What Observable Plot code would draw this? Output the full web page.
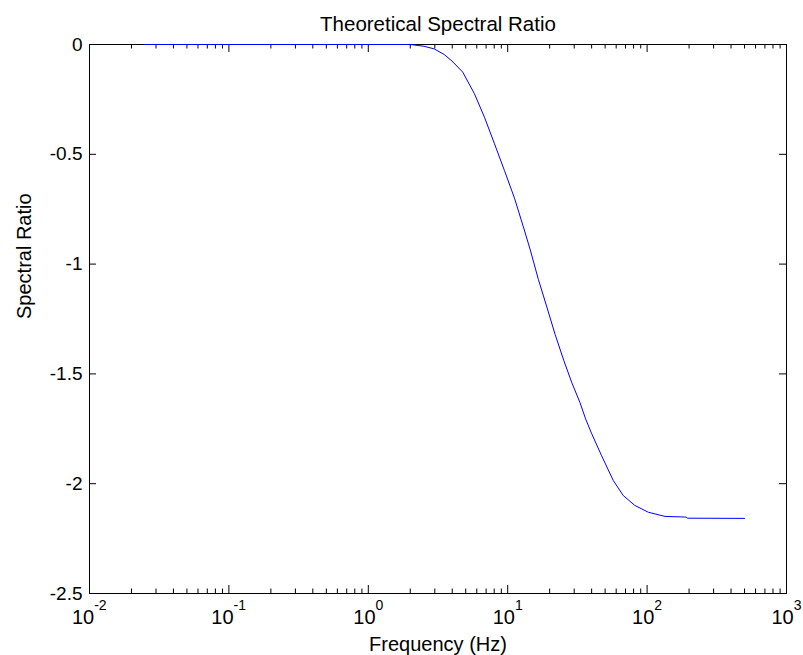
<!DOCTYPE html>
<html>
<head>
<meta charset="utf-8">
<script src="https://cdn.jsdelivr.net/npm/d3@7"></script>
<script src="https://cdn.jsdelivr.net/npm/@observablehq/plot@0.6"></script>
<style>
  html, body { margin: 0; padding: 0; background: #fff; }
  #chart svg { display: block; }
</style>
</head>
<body>
<div id="chart"></div>
<script>
// ---- data ----
const freq = [0.025, 1, 2, 2.51, 2.97, 3.51, 3.98, 4.76, 5.77, 6.81, 8.04, 9.48, 11.19, 13.09, 14.59, 16.6, 19.19, 21.88, 25.29, 28.84, 32.96, 36.22, 39.9, 47.1, 57.15, 67.45, 81.66, 102.1, 134.3, 190.5, 195, 500];
const ratio = [0, 0, 0, -0.008, -0.02, -0.046, -0.075, -0.126, -0.224, -0.331, -0.452, -0.574, -0.70, -0.84, -0.94, -1.07, -1.20, -1.32, -1.44, -1.54, -1.63, -1.705, -1.77, -1.872, -1.985, -2.054, -2.099, -2.130, -2.149, -2.152, -2.157, -2.158];

const xMajor = [0.01, 0.1, 1, 10, 100, 1000];
const xExponents = ["-2", "-1", "0", "1", "2", "3"];
const xMinor = [];
for (const d of [0.01, 0.1, 1, 10, 100]) for (const k of [2,3,4,5,6,7,8,9]) xMinor.push(+(k * d).toPrecision(3));
const yTicks = [0, -0.5, -1, -1.5, -2, -2.5];
const yTickLabels = ["0", "-0.5", "-1", "-1.5", "-2", "-2.5"];

const title = "Theoretical Spectral Ratio";
const xLabel = "Frequency (Hz)";
const yLabel = "Spectral Ratio";

const data = freq.map((f, i) => ({f, v: ratio[i]}));
const xLabs = xMajor.map((x, i) => ({x, e: xExponents[i]}));
const yLabs = yTicks.map((y, i) => ({y, t: yTickLabels[i]}));

const W = 803, H = 655;
const mL = 89, mR = 17, mT = 44, mB = 62;
const frameH = H - mT - mB, frameW = W - mL - mR;
const font = "'Liberation Sans', Arial, Helvetica, sans-serif";

// approximate widths for centring "10^e" labels
const baseFont = 20, expFont = 14;
const charW = c => (c === "-" ? 0.36 : 0.556);
const expW = e => [...e].reduce((s, c) => s + charW(c) * expFont, 0);
const baseW = 2 * 0.556 * baseFont;

const chart = Plot.plot({
  width: W,
  height: H,
  marginLeft: mL,
  marginRight: mR,
  marginTop: mT,
  marginBottom: mB,
  style: {fontFamily: font, background: "#fff", color: "#000"},
  x: {type: "log", domain: [0.01, 1000], axis: null},
  y: {domain: [-2.5, 0], axis: null},
  marks: [
    // ticks inward: bottom & top
    Plot.tickX(xMajor, {x: d => d, insetTop: frameH - 8, stroke: "#000"}),
    Plot.tickX(xMajor, {x: d => d, insetBottom: frameH - 8, stroke: "#000"}),
    Plot.tickX(xMinor, {x: d => d, insetTop: frameH - 4.5, stroke: "#000"}),
    Plot.tickX(xMinor, {x: d => d, insetBottom: frameH - 4.5, stroke: "#000"}),
    // ticks inward: left & right
    Plot.tickY(yTicks, {y: d => d, insetRight: frameW - 7, stroke: "#000"}),
    Plot.tickY(yTicks, {y: d => d, insetLeft: frameW - 7, stroke: "#000"}),
    Plot.frame({stroke: "#000", strokeWidth: 1}),
    Plot.line(data, {x: "f", y: "v", stroke: "#0000ff", strokeWidth: 1}),
    // y tick labels
    Plot.text(yLabs, {x: 0.01, y: "y", text: "t", textAnchor: "end", dx: -7, fontSize: 19, fill: "#000"}),
    // x tick labels "10" + exponent
    Plot.text(xLabs, {x: "x", y: -2.5, text: () => "10", textAnchor: "start", lineAnchor: "bottom",
      dy: 30, fontSize: baseFont, fill: "#000"}),
    Plot.text(xLabs, {x: "x", y: -2.5, text: "e", textAnchor: "start", lineAnchor: "bottom",
      dy: 16, fontSize: expFont, fill: "#000"}),
    // title & axis labels
    Plot.text([title], {frameAnchor: "top", text: d => d, lineAnchor: "bottom", dy: -14, fontSize: 20.5, fill: "#000"}),
    Plot.text([xLabel], {frameAnchor: "bottom", text: d => d, lineAnchor: "bottom", dy: 57, fontSize: 20, fill: "#000"}),
    Plot.text([yLabel], {frameAnchor: "left", text: d => d, rotate: -90, lineAnchor: "bottom", dx: -59, fontSize: 20, fill: "#000"})
  ]
});

// shift the split tick labels so each "10^e" is centred on its tick
const texts = chart.querySelectorAll("g[aria-label='text']");
// groups order: y labels, base "10", exponents, title, xlabel, ylabel
const baseG = texts[1], expG = texts[2];
baseG.querySelectorAll("text").forEach((t, i) => {
  const w = baseW + expW(xExponents[i]);
  t.setAttribute("dx", -w / 2);
});
expG.querySelectorAll("text").forEach((t, i) => {
  const w = baseW + expW(xExponents[i]);
  t.setAttribute("dx", -w / 2 + baseW);
});
document.getElementById("chart").appendChild(chart);
</script>
</body>
</html>
